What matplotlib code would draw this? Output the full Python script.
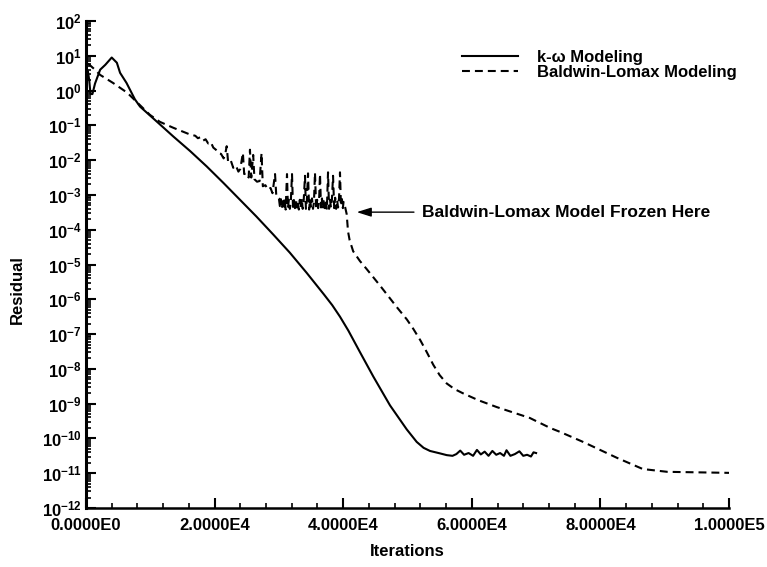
import matplotlib
matplotlib.use("Agg")
import matplotlib.pyplot as plt
from matplotlib.ticker import FixedLocator, FixedFormatter, LogLocator, MultipleLocator, NullFormatter
import numpy as np

# ---------------- data ----------------
kw_iter = [300, 500, 700, 1000, 1400, 2200, 3000, 4000, 4800, 5300, 6300, 7600, 8400,
           11000, 13580, 16200, 18770, 21400, 23950, 26500, 29130, 31700, 34320, 37000,
           38300, 39500, 40800, 42610, 44680, 47280, 49880, 51430, 52500, 53500, 55050, 56100,
           57000, 57600, 58200, 58800, 59500,
           60200, 60800, 61400, 62000, 62600, 63200, 63800, 64400, 65000, 65400, 66000,
           66700, 67400, 68000, 68600, 69200, 69600, 70000]
kw_log = [0.55, 0.3, -0.1, -0.1, 0.2, 0.6, 0.74, 0.95, 0.8, 0.51, 0.22, -0.25, -0.46,
          -0.89, -1.32, -1.74, -2.18, -2.66, -3.14, -3.62, -4.14, -4.66, -5.24, -5.86,
          -6.17, -6.50, -6.90, -7.52, -8.22, -9.05, -9.74, -10.10, -10.27, -10.36, -10.43, -10.48,
          -10.5, -10.45, -10.35, -10.47, -10.42,
          -10.5, -10.33, -10.46, -10.38, -10.5, -10.36, -10.47, -10.42, -10.5, -10.34, -10.5,
          -10.45, -10.37, -10.5, -10.47, -10.52, -10.4, -10.42]

bl_iter = [300, 1400, 2200, 4200, 6400, 7900, 9950, 11500, 13580, 16000,
           17000, 17400, 17800, 18200, 18600, 19000, 19400, 19800, 20200, 20600, 21000,
           21400, 21600, 21880, 22100, 22500, 22900, 23300, 23700, 24000, 24400, 24600,
           25000, 25300, 25500, 25700, 26000, 26200, 26600, 27000, 27300, 27500, 27900,
           28300, 28700, 29000, 29400, 29600, 30000,
           30150, 30300, 30450, 30600, 30750, 30900, 31050, 31260, 31400, 31550, 31700,
           31850, 32040, 32200, 32350, 32500, 32650, 32800, 32950, 33100, 33250, 33400,
           33550, 33700, 33850, 34060, 34200, 34350, 34530, 34700, 34850, 35000, 35150,
           35300, 35450, 35610, 35800, 35950, 36100, 36250, 36390, 36550, 36700, 36850,
           37000, 37150, 37300, 37460, 37640, 37800, 37950, 38100, 38250, 38420, 38600,
           38750, 38900, 39050, 39200, 39350, 39500, 39650, 39800, 39950, 40050,
           40300, 40540, 40750, 41000, 41550, 42600, 43600, 44650, 45700, 47300, 48400,
           49900, 50900, 52000, 53000, 54000, 55000, 56100, 57300, 58600, 61000, 63900,
           69000, 72200, 73700, 77300, 82600, 86600, 90400, 100000]
bl_log = [0.78, 0.6, 0.45, 0.22, -0.06, -0.33, -0.70, -0.90, -1.07, -1.25,
          -1.30, -1.37, -1.34, -1.44, -1.40, -1.52, -1.48, -1.64, -1.70, -1.80, -1.82,
          -1.95, -1.88, -1.60, -2.05, -2.00, -2.22, -2.15, -2.33, -2.25, -1.79, -2.40,
          -2.38, -2.50, -1.70, -2.50, -1.85, -2.55, -2.62, -2.60, -1.80, -2.75, -2.72,
          -2.85, -2.80, -2.95, -2.40, -3.05, -3.10,
          -3.32, -3.12, -3.40, -3.18, -3.36, -3.10, -3.42, -2.40, -3.38, -3.14, -3.40,
          -3.20, -2.40, -3.42, -3.15, -3.38, -3.12, -3.36, -3.20, -3.42, -3.14, -3.38,
          -3.10, -3.40, -3.18, -2.45, -3.40, -3.15, -2.38, -3.42, -3.12, -3.36, -3.10,
          -3.40, -3.22, -2.36, -3.42, -3.14, -3.38, -3.16, -2.40, -3.36, -3.10, -3.40,
          -3.12, -3.38, -3.18, -3.42, -2.35, -3.40, -3.14, -3.36, -3.12, -2.45, -3.38,
          -3.08, -3.40, -3.15, -3.36, -3.10, -2.35, -3.32, -3.12, -3.38, -3.20,
          -3.35, -3.55, -4.05, -4.30, -4.62, -4.90, -5.12, -5.36, -5.60, -5.98, -6.24,
          -6.58, -6.85, -7.18, -7.52, -7.88, -8.18, -8.42, -8.58, -8.70, -8.90, -9.10,
          -9.41, -9.70, -9.81, -10.10, -10.56, -10.88, -10.96, -10.99]

x_ticks = [0, 20000, 40000, 60000, 80000, 100000]
x_tick_labels = ["0.0000E0", "2.0000E4", "4.0000E4", "6.0000E4", "8.0000E4", "1.0000E5"]

series_labels = ["k-\u03c9 Modeling", "Baldwin-Lomax Modeling"]
annotation_text = "Baldwin-Lomax Model Frozen Here"
freeze_iter = 42100
freeze_res = 3.2e-4
note_iter = 52300

# ---------------- style ----------------
plt.rcParams['font.family'] = ['Liberation Sans', 'DejaVu Sans']
plt.rcParams['font.weight'] = 'bold'
plt.rcParams['mathtext.fontset'] = 'custom'
plt.rcParams['mathtext.rm'] = 'Liberation Sans:bold'
plt.rcParams['mathtext.it'] = 'Liberation Sans:bold'
plt.rcParams['mathtext.bf'] = 'Liberation Sans:bold'
plt.rcParams['mathtext.default'] = 'regular'

fig = plt.figure(figsize=(7.67, 5.67), dpi=100)
ax = fig.add_axes([86/767, 1-508/567, 643/767, 487/567])

kw_res = 10.0 ** np.array(kw_log)
bl_res = 10.0 ** np.array(bl_log)

ax.plot(kw_iter, kw_res, color='black', lw=1.5, label=series_labels[0])
ax.plot(bl_iter, bl_res, color='black', lw=1.5, ls=(0, (3.8, 2.4)), label=series_labels[1])

ax.set_yscale('log')
ax.set_xlim(0, 100000)
ax.set_ylim(1e-12, 1e2)

ax.xaxis.set_major_locator(FixedLocator(x_ticks))
ax.xaxis.set_major_formatter(FixedFormatter(x_tick_labels))
ax.xaxis.set_minor_locator(MultipleLocator(4000))
ax.yaxis.set_major_locator(LogLocator(base=10, numticks=30))
ax.yaxis.set_minor_locator(LogLocator(base=10, subs=np.arange(2, 10), numticks=30))
ax.yaxis.set_minor_formatter(NullFormatter())

for s in ['top', 'right']:
    ax.spines[s].set_visible(False)
ax.spines['left'].set_linewidth(2.2)
ax.spines['bottom'].set_linewidth(1.8)

ax.tick_params(axis='both', which='major', direction='in', length=7, width=1.5,
               labelsize=12, color='black')
ax.tick_params(axis='both', which='minor', direction='in', length=3.5, width=1.2)
ax.tick_params(axis='x', which='major', pad=7.5)
ax.tick_params(axis='y', which='major', pad=3)
for lab in ax.get_xticklabels() + ax.get_yticklabels():
    lab.set_fontweight('bold')

ax.set_xlabel("Iterations", fontsize=12, fontweight='bold', va='top')
ax.set_ylabel("Residual", fontsize=12, fontweight='bold')
ax.xaxis.set_label_coords(0.5, -0.074)
ax.yaxis.set_label_coords(-0.095, 0.448)

leg = ax.legend(loc='upper left', bbox_to_anchor=(462/767, 1-50/567),
                bbox_transform=fig.transFigure, frameon=False, fontsize=12,
                handlelength=3.36, handletextpad=1.15, labelspacing=0.0,
                borderpad=0, borderaxespad=0)
for t in leg.get_texts():
    t.set_fontweight('bold')

ax.annotate(annotation_text, xy=(freeze_iter, freeze_res), xytext=(note_iter, freeze_res),
            fontsize=12.5, fontweight='bold', va='center', ha='left',
            arrowprops=dict(arrowstyle='-|>,head_length=0.7,head_width=0.22', color='black',
                            lw=1.0, shrinkA=4, shrinkB=0))

fig.savefig("out.png", dpi=100)
